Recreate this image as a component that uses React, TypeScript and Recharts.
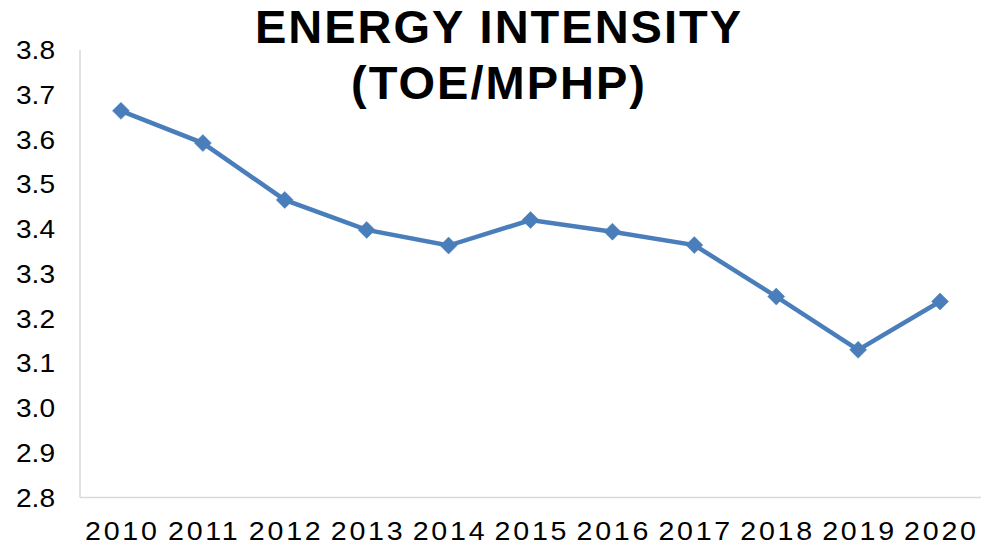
import React from 'react';
import { LineChart, Line, XAxis, YAxis } from 'recharts';

const years = ['2010', '2011', '2012', '2013', '2014', '2015', '2016', '2017', '2018', '2019', '2020'];
const intensity = [3.664, 3.592, 3.465, 3.398, 3.363, 3.42, 3.394, 3.364, 3.249, 3.13, 3.238];
const yTicks = [2.8, 2.9, 3.0, 3.1, 3.2, 3.3, 3.4, 3.5, 3.6, 3.7, 3.8];
const titleLines = ['ENERGY INTENSITY', '(TOE/MPHP)'];

const data = years.map((y, i) => ({ year: y, value: intensity[i] }));

const BLUE = '#4a7ebb';
const AXIS = '#d9d9d9';
const FONT = '"Liberation Sans", Arial, sans-serif';

const Diamond = (props: any) => {
  const { cx, cy } = props;
  if (cx == null || cy == null) return null;
  const r = 8.5;
  return (
    <polygon
      points={`${cx},${cy - r} ${cx + r},${cy} ${cx},${cy + r} ${cx - r},${cy}`}
      fill={BLUE}
      stroke={BLUE}
      strokeWidth={0.5}
    />
  );
};

const XTick = (props: any) => {
  const { x, y, payload } = props;
  const ls = 2.5;
  return (
    <g transform={`translate(${x},${y})`}>
      <text
        transform="scale(1.1,1)"
        x={ls / 2}
        y={0}
        dy="0.71em"
        textAnchor="middle"
        fill="#000"
        fontSize={26}
        fontFamily={FONT}
        letterSpacing={ls}
      >
        {payload.value}
      </text>
    </g>
  );
};

const YTick = (props: any) => {
  const { x, y, payload } = props;
  return (
    <g transform={`translate(${x},${y})`}>
      <text
        transform="scale(1.08,1)"
        x={0}
        y={0}
        dy="0.355em"
        textAnchor="end"
        fill="#000"
        fontSize={26}
        fontFamily={FONT}
      >
        {Number(payload.value).toFixed(1)}
      </text>
    </g>
  );
};

export default function App() {
  return (
    <div style={{ position: 'absolute', left: 0, top: 0, width: 988, height: 546, background: '#fff', fontFamily: FONT }}>
      <LineChart
        width={988}
        height={546}
        data={data}
        margin={{ top: 50, right: 7, bottom: 0, left: 0 }}
      >
        <XAxis
          dataKey="year"
          scale="band"
          axisLine={{ stroke: AXIS, strokeWidth: 1.5 }}
          tickLine={false}
          tickSize={6}
          tickMargin={18}
          height={48.5}
          interval={0}
          tick={<XTick />}
        />
        <YAxis
          domain={[2.8, 3.8]}
          ticks={yTicks}
          width={80}
          interval={0}
          axisLine={{ stroke: AXIS, strokeWidth: 1.5 }}
          tickLine={false}
          tickSize={6}
          tickMargin={19}
          tick={<YTick />}
        />
        <Line
          type="linear"
          dataKey="value"
          stroke={BLUE}
          strokeWidth={4.5}
          dot={<Diamond />}
          activeDot={false}
          isAnimationActive={false}
        />
      </LineChart>
      <div
        style={{
          position: 'absolute',
          left: 98,
          top: -1,
          width: 800,
          textAlign: 'center',
          fontFamily: FONT,
          fontWeight: 'bold',
          fontSize: 47,
          lineHeight: '56px',
          letterSpacing: 2,
          paddingLeft: 2,
          boxSizing: 'border-box',
          color: '#000',
          pointerEvents: 'none',
        }}
      >
        {titleLines.map((t) => (
          <div key={t}>{t}</div>
        ))}
      </div>
    </div>
  );
}
